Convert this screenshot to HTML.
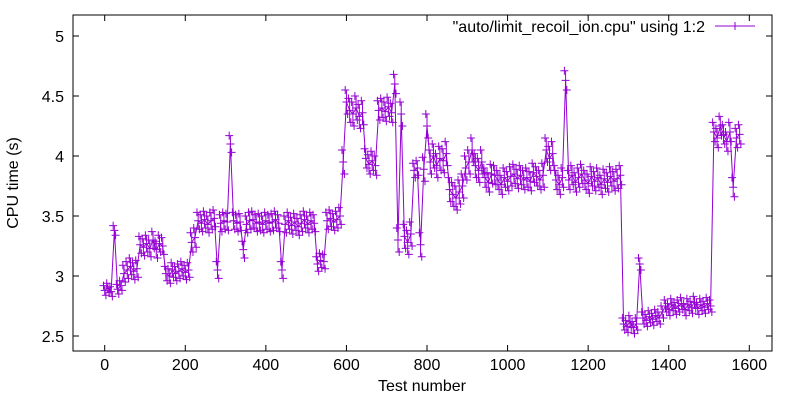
<!DOCTYPE html>
<html><head><meta charset="utf-8"><style>
html,body{margin:0;padding:0;background:#fff;}
svg{display:block;font-family:"Liberation Sans",sans-serif;}
</style></head><body>
<svg id="chart" width="800" height="400" viewBox="0 0 800 400" xmlns="http://www.w3.org/2000/svg">
<rect x="0" y="0" width="800" height="400" fill="#fff"/>
<g id="axes"></g>
<g id="series"></g>
<rect x="73" y="15" width="699" height="336" fill="none" stroke="#000" stroke-width="1"/>
<text x="14" y="183" transform="rotate(-90 14 183)" text-anchor="middle" dominant-baseline="middle" font-size="16">CPU time (s)</text>
<text x="422" y="391" text-anchor="middle" font-size="16">Test number</text>
<g>
<text x="705" y="32" text-anchor="end" font-size="16">"auto/limit_recoil_ion.cpu" using 1:2</text>
<line x1="715" y1="26" x2="755" y2="26" stroke="#9400d3" stroke-width="1"/>
<path d="M731 26h8M735 22v8" stroke="#9400d3" stroke-width="1"/>
</g>
</svg>
<script>
const xTicks = [0,200,400,600,800,1000,1200,1400,1600];
const yTicks = [2.5,3,3.5,4,4.5,5];
const yTickLabels = ["2.5","3","3.5","4","4.5","5"];
const testNumbers = [0,8,16,24,32,40,48,56,64,72,80,88,96,104,112,120,128,136,144,152,160,168,176,184,192,200,208,216,224,232,240,248,256,264,272,280,288,296,304,312,320,328,336,344,352,360,368,376,384,392,400,408,416,424,432,440,448,456,464,472,480,488,496,504,512,520,528,536,544,552,560,568,576,584,592,600,608,616,624,632,640,648,656,664,672,680,688,696,704,712,720,728,736,744,752,760,768,776,784,792,800,808,816,824,832,840,848,856,864,872,880,888,896,904,912,920,928,936,944,952,960,968,976,984,992,1000,1008,1016,1024,1032,1040,1048,1056,1064,1072,1080,1088,1096,1104,1112,1120,1128,1136,1144,1152,1160,1168,1176,1184,1192,1200,1208,1216,1224,1232,1240,1248,1256,1264,1272,1280,1288,1296,1304,1312,1320,1328,1336,1344,1352,1360,1368,1376,1384,1392,1400,1408,1416,1424,1432,1440,1448,1456,1464,1472,1480,1488,1496,1504,1512,1520,1528,1536,1544,1552,1560,1568,1576];
const cpuTimes = [2.88,2.90,2.87,3.38,2.89,2.92,3.02,3.05,3.08,3.04,3.06,3.26,3.24,3.27,3.23,3.30,3.22,3.27,3.25,3.02,3.00,3.05,3.02,3.04,3.06,3.03,3.05,3.28,3.32,3.46,3.44,3.47,3.43,3.46,3.48,3.05,3.44,3.46,3.45,4.10,3.46,3.44,3.45,3.22,3.43,3.46,3.47,3.44,3.45,3.43,3.46,3.44,3.45,3.47,3.44,3.05,3.43,3.46,3.42,3.45,3.41,3.44,3.47,3.43,3.46,3.44,3.10,3.13,3.12,3.46,3.48,3.45,3.47,3.50,3.95,4.45,4.38,4.35,4.40,4.33,4.36,3.98,3.93,3.96,3.92,4.38,4.40,4.37,4.41,4.36,4.60,3.30,4.35,3.33,3.28,3.35,3.88,3.90,3.26,3.89,4.25,3.95,4.00,3.92,3.98,3.96,4.02,3.72,3.68,3.65,3.70,3.75,3.90,3.95,4.05,3.92,3.88,3.95,3.82,3.78,3.85,3.84,3.80,3.76,3.82,3.79,3.83,3.85,3.81,3.84,3.80,3.82,3.79,3.86,3.83,3.80,3.84,4.05,3.98,4.02,3.80,3.76,3.82,4.63,3.80,3.84,3.78,3.82,3.85,3.80,3.77,3.83,3.79,3.82,3.76,3.81,3.78,3.83,3.79,3.81,3.84,2.60,2.58,2.62,2.57,2.60,3.10,2.65,2.63,2.66,2.64,2.67,2.65,2.70,2.75,2.72,2.76,2.73,2.75,2.77,2.72,2.76,2.74,2.78,2.73,2.76,2.74,2.77,2.75,4.20,4.15,4.25,4.18,4.12,4.20,3.74,4.15,4.18];
const cpuSpread = [
0.04,0.04,0.04,0.04,0.04,0.04,
0.07,0.07,0.07,0.07,0.07,0.07,0.07,0.07,0.07,0.07,0.07,0.07,0.07,
0.06,0.06,0.06,0.06,0.06,0.06,0.06,0.06,
0.08,0.08,
0.07,0.07,0.07,0.07,0.07,0.07,0.07,0.07,0.07,0.07,0.07,0.07,0.07,0.07,0.07,0.07,0.07,0.07,0.07,0.07,0.07,0.07,0.07,0.07,0.07,0.07,0.07,0.07,0.07,0.07,0.07,0.07,0.07,0.07,0.07,0.07,0.07,
0.06,0.06,0.06,
0.07,0.07,0.07,0.07,0.07,
0.10,0.10,0.10,0.10,0.10,0.10,0.10,
0.08,0.08,0.08,0.08,
0.08,0.08,0.08,0.08,0.08,0.08,
0.10,0.10,0.10,0.10,0.10,
0.06,0.06,
0.10,0.10,0.10,0.10,0.10,0.10,0.10,0.10,0.10,0.10,0.10,0.10,0.10,0.10,0.10,0.10,0.10,0.10,0.10,0.10,
0.08,0.08,0.08,0.08,0.08,0.08,0.08,0.08,0.08,0.08,0.08,0.08,0.08,0.08,0.08,0.08,0.08,0.08,
0.10,0.10,0.10,0.10,
0.08,0.08,0.08,0.08,0.08,0.08,0.08,0.08,0.08,0.08,0.08,0.08,0.08,0.08,0.08,0.08,0.08,0.08,0.08,0.08,0.08,
0.05,0.05,0.05,0.05,0.05,0.05,0.05,0.05,0.05,0.05,0.05,0.05,0.05,0.05,0.05,0.05,0.05,0.05,0.05,0.05,0.05,0.05,0.05,0.05,0.05,0.05,0.05,0.05,
0.08,0.08,0.08,0.08,0.08,0.08,0.08,0.08,0.08];

const L=73,R=772,T=15,B=351;
function xScale(v){return 104.7 + v*0.40288;}
function yScale(v){return 36 + (5 - v)*120;}
const NS="http://www.w3.org/2000/svg";
const axes=document.getElementById('axes');
const series=document.getElementById('series');
function mk(tag,attrs,parent){const e=document.createElementNS(NS,tag);for(const k in attrs)e.setAttribute(k,attrs[k]);parent.appendChild(e);return e;}

xTicks.forEach(function(t){
  const x=xScale(t);
  const tk=mk('path',{d:'M'+x+' '+B+'v-6M'+x+' '+T+'v6',stroke:'#000','stroke-width':1},axes);
  
  
  const lb=mk('text',{x:x,y:370,'text-anchor':'middle','font-size':16},axes);
  lb.textContent=String(t);
  
  
});
yTicks.forEach(function(t,i){
  const y=yScale(t);
  const tk=mk('path',{d:'M'+L+' '+y+'h6M'+R+' '+y+'h-6',stroke:'#000','stroke-width':1},axes);
  
  
  const lb=mk('text',{x:64,y:y+6,'text-anchor':'end','font-size':16},axes);
  lb.textContent=yTickLabels[i];
  
  
});

let d='';
testNumbers.forEach(function(n,i){d+=(i?'L':'M')+xScale(n).toFixed(1)+' '+yScale(cpuTimes[i]).toFixed(1);});
const line=mk('path',{d:d,fill:'none',stroke:'#9400d3','stroke-width':1},series);


testNumbers.forEach(function(n,i){
  const v=cpuTimes[i], s=cpuSpread[i];
  const x=xScale(n), y=yScale(v), y1=yScale(v+s), y2=yScale(v-s);
  const xa=xScale(n-3), xb=xScale(n+3);
  const pd='M'+x+' '+y1+'V'+y2+
    'M'+(x-4)+' '+y+'h8M'+x+' '+(y-4)+'v8'+
    'M'+(xa-4)+' '+y1+'h8M'+xa+' '+(y1-4)+'v8'+
    'M'+(xb-4)+' '+y2+'h8M'+xb+' '+(y2-4)+'v8';
  const p=mk('path',{d:pd,stroke:'#9400d3','stroke-width':1,fill:'none'},series);
  
  
});
</script>
</body></html>
